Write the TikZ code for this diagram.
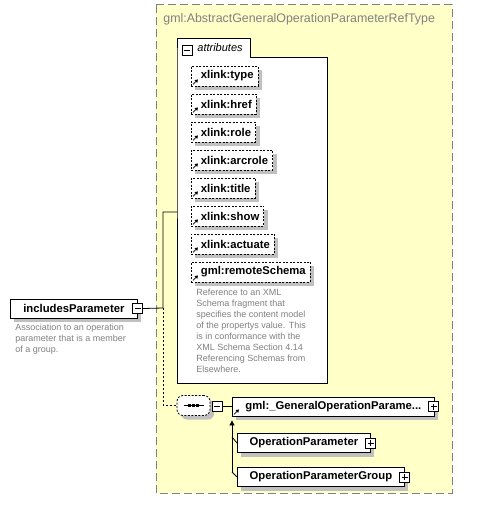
\documentclass[tikz,border=0pt]{standalone}
\usepackage{fontspec}
\setmainfont{Liberation Sans}
\usetikzlibrary{shadows,arrows.meta}

\definecolor{typebg}{RGB}{255,255,200}
\definecolor{typeline}{RGB}{128,128,128}
\definecolor{doctext}{RGB}{128,128,128}
\definecolor{shadowgray}{RGB}{192,192,192}

\tikzset{
  boxshadow/.style={drop shadow={shadow xshift=4pt, shadow yshift=-4pt, fill=shadowgray, opacity=1}},
  elem/.style={draw, fill=white, boxshadow, font=\fontsize{11.3}{13}\selectfont\bfseries,
    minimum height=19, inner sep=0, anchor=west},
  attr/.style={elem, dash pattern=on 2pt off 1.5pt, minimum height=20, inner xsep=4.5,
    execute at begin node={\hspace*{5pt}}},
  pmbox/.style={draw, fill=white, minimum size=10, inner sep=0,
    path picture={\draw ([xshift=2pt]path picture bounding box.west) -- ([xshift=-2pt]path picture bounding box.east);}},
  plusbox/.style={draw, fill=white, minimum size=10, inner sep=0,
    path picture={\draw ([xshift=2pt]path picture bounding box.west) -- ([xshift=-2pt]path picture bounding box.east);
      \draw ([yshift=2pt]path picture bounding box.south) -- ([yshift=-2pt]path picture bounding box.north);}},
  doc/.style={anchor=north west, align=left, text=doctext, font=\fontsize{9}{11}\selectfont, inner sep=0},
  refarrow/.style={-{Triangle[length=3pt,width=3.5pt]}, line width=0.8pt},
}

\begin{document}
\begin{tikzpicture}[x=1pt, y=-1pt, line width=0.8pt]
  \useasboundingbox (0,0) rectangle (478,508);

  % complex type
  \draw[typeline, fill=typebg, line width=1pt, dash pattern=on 8pt off 4pt] (156,5) rectangle (452,493);
  \node[anchor=west, text=typeline, font=\fontsize{12.4}{14}\selectfont, inner sep=0] (ctname) at (163,19)
    {gml:AbstractGeneralOperationParameterRefType};

  % attributes
  \draw[fill=white] (177,57) -- (177,38) -- (250,38) -- (250,57) -- (327,57) -- (327,383) -- (177,383) -- cycle;
  \node[pmbox] (attrm) at (187,50) {};
  \node[anchor=west, font=\fontsize{11}{13}\selectfont\itshape, inner sep=0] (attrlbl) at (197,48) {attributes};
  \coordinate (attrin) at (177,212);

  \foreach \lbl [count=\i] in {xlink:type,xlink:href,xlink:role,xlink:arcrole,xlink:title,xlink:show,xlink:actuate,gml:remoteSchema}
    \node[attr] (a\i) at (191,{48+28*\i}) {\lbl};
  \foreach \i in {1,...,8}
    \draw[refarrow] ([shift={(2pt,2pt)}]a\i.south west) -- ++(5pt,5pt);

  \node[doc] (attrdoc) at (196,289) {Reference to an XML\\Schema fragment that\\specifies the content model\\of the propertys value. This\\is in conformance with the\\XML Schema Section 4.14\\Referencing Schemas from\\Elsewhere.};

  % element
  \node[elem, minimum width=127] (incl) at (10,308.5) {includesParameter};
  \node[pmbox] (inclm) at (incl.east) {};
  \node[doc] (incldoc) at (15,324) {Association to an operation\\parameter that is a member\\of a group.};

  % sequence
  \node[draw, fill=white, boxshadow, dash pattern=on 2pt off 1.5pt, rounded corners=6pt,
    minimum width=33, minimum height=20, inner sep=0] (seq) at (193.5,405.5) {};
  \draw ([xshift=-10pt]seq.center) -- ([xshift=10pt]seq.center);
  \foreach \dx in {-4,0,4}
    \fill ([xshift=\dx pt]seq.center) +(-1.3,-1.3) rectangle +(1.3,1.3);
  \node[pmbox] (seqm) at (217,406.5) {};

  \node[elem, minimum width=202] (gop) at (232,406.5) {gml:\_GeneralOperationParame...};
  \node[plusbox] (gopp) at ([xshift=-1pt]gop.east) {};
  \draw[refarrow] ([shift={(2pt,2pt)}]gop.south west) -- ++(5pt,5pt);

  \node[elem, minimum width=133] (op) at (237,443) {OperationParameter};
  \node[plusbox] (opp) at (op.east) {};
  \node[elem, minimum width=167] (opg) at (237,477) {OperationParameterGroup};
  \node[plusbox] (opgp) at (opg.east) {};

  % connectors
  \coordinate (fork) at (163,308);
  \draw (inclm.east) -- (fork) |- (attrin);
  \draw[dash pattern=on 2pt off 2pt] (fork) |- (seq.west);
  \draw (seqm.east) -- (gop.west);
  \draw[-{Triangle[length=5pt,width=5pt]}] ([xshift=-5pt,yshift=5pt]opg.west) -- ([yshift=-4pt]gop.south west);
  \draw ([xshift=-5pt,yshift=6pt]op.west) -- (op.west);
  \draw ([xshift=-5pt,yshift=5pt]opg.west) -- (opg.west);
\end{tikzpicture}
\end{document}
